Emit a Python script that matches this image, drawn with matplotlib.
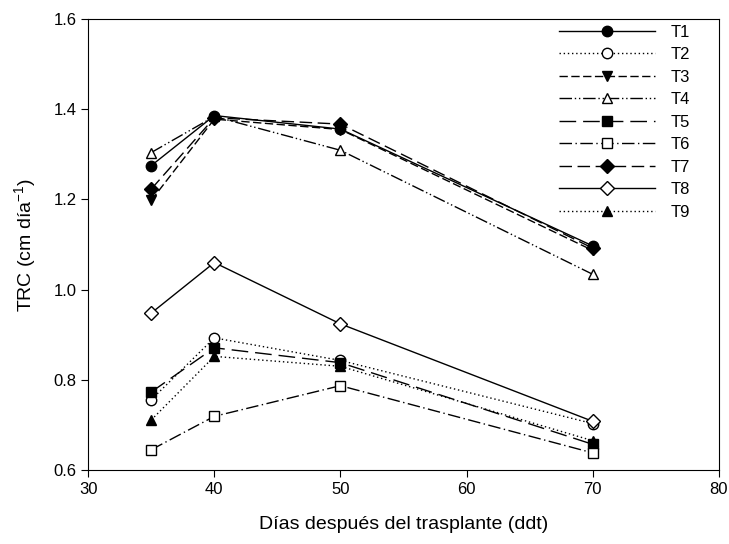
import matplotlib.pyplot as plt

plt.rcParams['font.family'] = ['Liberation Sans', 'DejaVu Sans']

dias = [35, 40, 50, 70]

t1 = [1.275, 1.386, 1.356, 1.097]
t2 = [0.756, 0.893, 0.843, 0.703]
t3 = [1.198, 1.378, 1.355, 1.087]
t4 = [1.304, 1.384, 1.309, 1.034]
t5 = [0.773, 0.871, 0.838, 0.657]
t6 = [0.645, 0.719, 0.787, 0.638]
t7 = [1.223, 1.381, 1.367, 1.092]
t8 = [0.948, 1.060, 0.924, 0.708]
t9 = [0.711, 0.852, 0.830, 0.665]

series = [
    ('T1', t1, 'o', 'k', '-'),
    ('T2', t2, 'o', 'w', (0, (1, 2))),
    ('T3', t3, 'v', 'k', (0, (6, 2.5))),
    ('T4', t4, '^', 'w', (0, (9, 2, 1, 2, 1, 2))),
    ('T5', t5, 's', 'k', (0, (12, 5))),
    ('T6', t6, 's', 'w', (0, (9, 2.5, 1, 2.5))),
    ('T7', t7, 'D', 'k', (0, (9, 4))),
    ('T8', t8, 'D', 'w', '-'),
    ('T9', t9, '^', 'k', (0, (1, 2))),
]

fig = plt.figure(figsize=(7.29, 5.44), dpi=100)
ax = fig.add_axes([0.121, 0.136, 0.865, 0.829])

for name, vals, mk, fc, ls in series:
    ms = 7.5 if mk != 'D' else 7
    ax.plot(dias, vals, color='k', lw=1, ls=ls, marker=mk, ms=ms,
            mfc=fc, mec='k', mew=1, label=name)

ax.set_xlim(30, 80)
ax.set_ylim(0.6, 1.6)
ax.set_xticks([30, 40, 50, 60, 70, 80])
ax.set_yticks([0.6, 0.8, 1.0, 1.2, 1.4, 1.6])
ax.set_yticklabels(['0.6', '0.8', '1.0', '1.2', '1.4', '1.6'])
ax.tick_params(direction='out', length=5, labelsize=12)

ax.set_xlabel('Días después del trasplante (ddt)', fontsize=14, labelpad=14)
ax.set_ylabel('TRC (cm día$^{\\mathregular{-1}}$)', fontsize=14, labelpad=10)

ax.legend(loc='upper right', frameon=False, fontsize=12, handlelength=5.8,
          labelspacing=0.45, handletextpad=0.9, borderaxespad=0.2,
          bbox_to_anchor=(0.97, 1.01))

fig.savefig('out.png', dpi=100)
